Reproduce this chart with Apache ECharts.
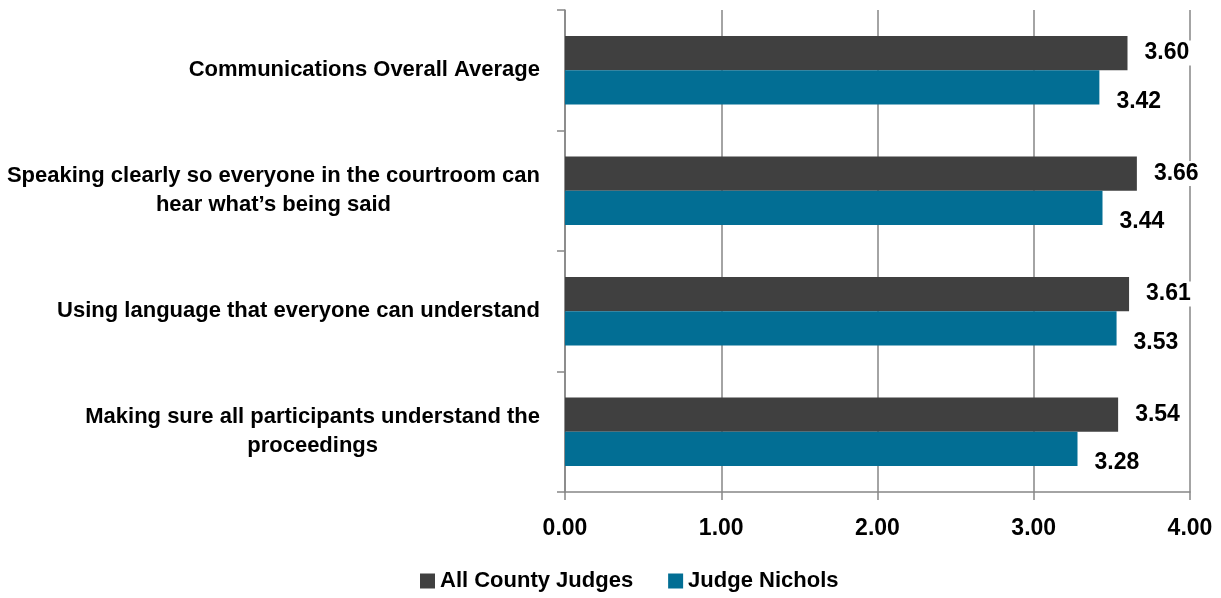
<!DOCTYPE html>
<html>
<head>
<meta charset="utf-8">
<script src="https://cdn.jsdelivr.net/npm/echarts@6/dist/echarts.min.js"></script>
<style>html,body{margin:0;padding:0;background:#fff}#c{width:1221px;height:598px}</style>
</head>
<body>
<div id="c"></div>
<script>
var categories = [
  'Communications Overall Average',
  'Speaking clearly so everyone in the courtroom can\nhear what\u2019s being said',
  'Using language that everyone can understand',
  'Making sure all participants understand the\nproceedings'
];
var seriesNames = ['All County Judges', 'Judge Nichols'];
var allCountyJudges = [3.60, 3.66, 3.61, 3.54];
var judgeNichols = [3.42, 3.44, 3.53, 3.28];
var xTicks = [0, 1, 2, 3, 4];

var FONT = '"Liberation Sans Narrow", "Arial Narrow", "Liberation Sans", Arial, sans-serif';
var chart = echarts.init(document.getElementById('c'));
var labelStyle = {
  show: true, position: 'right', distance: 15,
  fontFamily: FONT, fontWeight: 'bold', fontSize: 23, color: '#000',
  backgroundColor: '#fff', padding: [1, 2],
  formatter: function (p) { return p.value.toFixed(2); }
};
chart.setOption({
  animation: false,
  textStyle: { fontFamily: FONT },
  grid: { left: 565, right: 31, top: 10, bottom: 106, containLabel: false },
  legend: {
    bottom: 1, left: 415, itemWidth: 15, itemHeight: 15, itemGap: 35,
    icon: 'rect',
    textStyle: { fontFamily: FONT, fontWeight: 'bold', fontSize: 22, color: '#000' },
    data: seriesNames
  },
  xAxis: {
    type: 'value', min: xTicks[0], max: xTicks[xTicks.length - 1], interval: 1,
    axisLine: { show: true, lineStyle: { color: '#868686', width: 1.5 } },
    axisTick: { show: true, length: 8, lineStyle: { color: '#868686', width: 1.5 } },
    splitLine: { show: true, lineStyle: { color: '#868686', width: 1.5 } },
    axisLabel: {
      margin: 25, fontFamily: FONT, fontWeight: 'bold', fontSize: 23, color: '#000',
      formatter: function (v) { return v.toFixed(2); }
    }
  },
  yAxis: {
    type: 'category', inverse: true, data: categories,
    axisLine: { show: true, lineStyle: { color: '#868686', width: 1.5 } },
    axisTick: { show: true, length: 8, lineStyle: { color: '#868686', width: 1.5 } },
    axisLabel: {
      margin: 25, fontFamily: FONT, fontWeight: 'bold', fontSize: 22, color: '#000',
      align: 'right', lineHeight: 29,
      formatter: function (v) {
        return v.split('\n').map(function (s) { return '{c|' + s + '}'; }).join('\n');
      },
      rich: { c: { align: 'center', fontFamily: FONT, fontWeight: 'bold', fontSize: 22, color: '#000', lineHeight: 29 } }
    }
  },
  series: [
    {
      name: seriesNames[0], type: 'bar', data: allCountyJudges,
      barGap: '0%', barCategoryGap: '43%',
      itemStyle: { color: '#404040' },
      label: labelStyle
    },
    {
      name: seriesNames[1], type: 'bar', data: judgeNichols,
      barGap: '0%', barCategoryGap: '43%',
      itemStyle: { color: '#026E94' },
      label: Object.assign({}, labelStyle, { offset: [0, 14] })
    }
  ]
});
</script>
</body>
</html>
